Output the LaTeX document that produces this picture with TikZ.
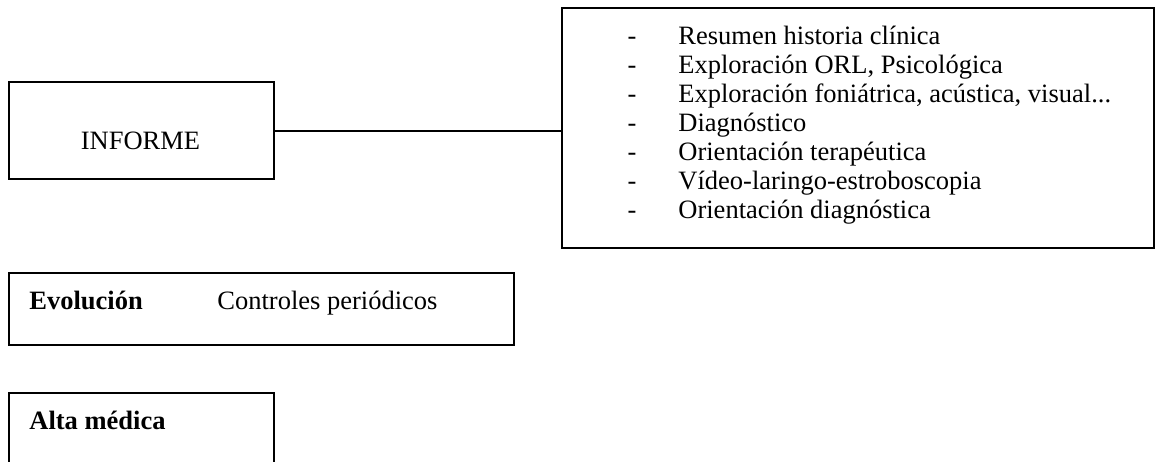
\documentclass[tikz,border=0pt]{standalone}
\usepackage{fontspec}
\setmainfont{Liberation Serif}
\begin{document}
\begin{tikzpicture}[x=0.5pt,y=-0.5pt,
		caja/.style={draw,line width=1pt,inner sep=0pt,anchor=north west},
		txt/.style={inner sep=0pt,anchor=base west,font=\fontsize{13.25}{15}\selectfont}]
		\clip (0,0) rectangle (1155,461);
		% cajas
		\node[caja,minimum width=132.5pt,minimum height=48.5pt] (cinforme) at (8,81) {};
		\node[caja,minimum width=296pt,minimum height=120pt] (clista) at (561,7) {};
		\node[caja,minimum width=252.5pt,minimum height=36pt] (cevol) at (8,272) {};
		\node[caja,minimum width=132.5pt,minimum height=50pt] (calta) at (8,392) {};
		% textos
		\node[txt,anchor=base] (informe) at (140.5,149) {INFORME};
		\foreach \t [count=\i] in {Resumen historia clínica,{Exploración ORL, Psicológica},
			{Exploración foniátrica, acústica, visual.{}..},Diagnóstico,Orientación terapéutica,
			Vídeo-laringo-estroboscopia,Orientación diagnóstica}{
			\node[txt,anchor=base] (guion\i) at (632,{44+29*(\i-1)}) {-};
			\node[txt] (item\i) at (678,{44+29*(\i-1)}) {\t};
		}
		\node[txt] (evol) at (29,309) {\bfseries Evolución};
		\node[txt] (control) at (217,309) {Controles periódicos};
		\node[txt] (alta) at (29,429) {\bfseries Alta médica};
		% conector
		\draw[line width=1pt] (cinforme.east) -- (cinforme.east -| clista.west);
\end{tikzpicture}
\end{document}
